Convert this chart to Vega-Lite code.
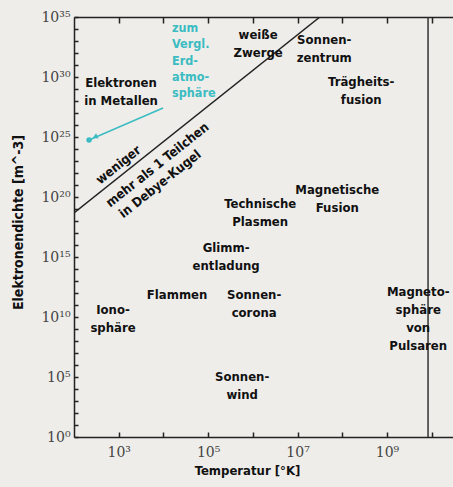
{
  "$schema": "https://vega.github.io/schema/vega-lite/v6.json",
  "width": 379,
  "height": 420,
  "autosize": {"type": "none"},
  "padding": {"left": 74, "top": 17, "right": 0, "bottom": 50},
  "background": "#eeedea",
  "config": {
    "view": {"stroke": null},
    "axis": {
      "domainColor": "#222",
      "domainWidth": 1.5,
      "tickColor": "#222",
      "tickWidth": 1.5,
      "grid": false,
      "labelFont": "DejaVu Serif",
      "labelFontSize": 14,
      "labelColor": "#444",
      "titleFont": "Liberation Sans Narrow, DejaVu Sans Condensed, sans-serif",
      "titleFontWeight": "bold",
      "titleFontSize": 13,
      "titleColor": "#111"
    },
    "text": {"font": "Liberation Sans Narrow, DejaVu Sans Condensed, sans-serif", "fontWeight": "bold", "fontSize": 13, "color": "#111", "lineBreak": "\n", "lineHeight": 18}
  },
  "datasets": {
    "debye": [{"T": 100, "n": 4.68e18}, {"T": 3.162e7, "n": 1e35}],
    "pulsar": [{"T": 8.3e9}],
    "arrow": [{"T": 9820, "n": 2.6e27}, {"T": 217, "n": 5.6e24}],
    "dot": [{"T": 217, "n": 5.6e24}],
    "head": [{"T": 295, "n": 1e25}],
    "labels": [
      {"T": 1127, "n": 3.16e29, "text": "Elektronen\nin Metallen"},
      {"T": 1.315e6, "n": 3.16e33, "text": "weiße\nZwerge"},
      {"T": 3.95e7, "n": 1.21e33, "text": "Sonnen-\nzentrum"},
      {"T": 2.66e8, "n": 3.83e29, "text": "Trägheits-\nfusion"},
      {"T": 7.73e7, "n": 3.83e20, "text": "Magnetische\nFusion"},
      {"T": 1.46e6, "n": 2.62e19, "text": "Technische\nPlasmen"},
      {"T": 2.53e5, "n": 5.6e15, "text": "Glimm-\nentladung"},
      {"T": 2.02e4, "n": 6.8e11, "text": "Flammen"},
      {"T": 1.07e6, "n": 6.8e11, "text": "Sonnen-\ncorona"},
      {"T": 746, "n": 3.83e10, "text": "Iono-\nsphäre"},
      {"T": 5.77e5, "n": 1e5, "text": "Sonnen-\nwind"},
      {"T": 5.0e9, "n": 1.21e12, "text": "Magneto-\nsphäre\nvon\nPulsaren"}
    ],
    "cyan": [{"T": 15600, "n": 1.21e34, "text": "zum\nVergl.\nErd-\natmo-\nsphäre"}],
    "rot": [
      {"T": 991, "n": 4.6e22, "text": "weniger"},
      {"T": 7400, "n": 4.64e22, "text": "mehr als 1 Teilchen"},
      {"T": 8410, "n": 1.2e21, "text": "in Debye-Kugel"}
    ]
  },
  "layer": [
    {
      "data": {"name": "debye"},
      "mark": {"type": "line", "color": "#222", "strokeWidth": 1.5, "clip": true},
      "encoding": {
        "x": {
          "field": "T", "type": "quantitative",
          "scale": {"type": "log", "domain": [100, 3e10], "nice": false},
          "axis": {
            "orient": "bottom",
            "values": [1000, 10000, 100000, 1000000, 10000000, 100000000, 1000000000, 10000000000],
            "tickSize": -5,
            "labelPadding": 13,
            "labelFlush": false,
            "labelExpr": "['','','','10³','','10⁵','','10⁷','','10⁹','',''][round(log(datum.value)/LN10)]",
            "title": "Temperatur [°K]",
            "titleX": 173,
            "titleY": 33,
            "titleBaseline": "middle",
            "titleAlign": "center"
          }
        },
        "y": {
          "field": "n", "type": "quantitative",
          "scale": {"type": "log", "domain": [1, 1e35], "nice": false},
          "axis": {
            "values": [1, 1e1, 1e2, 1e3, 1e4, 1e5, 1e6, 1e7, 1e8, 1e9, 1e10, 1e11, 1e12, 1e13, 1e14, 1e15, 1e16, 1e17, 1e18, 1e19, 1e20, 1e21, 1e22, 1e23, 1e24, 1e25, 1e26, 1e27, 1e28, 1e29, 1e30, 1e31, 1e32, 1e33, 1e34, 1e35],
            "tickSize": -4,
            "labelPadding": 8,
            "labelFlush": false,
            "labelExpr": "round(log(datum.value)/LN10) % 5 == 0 ? '10' + ['⁰','⁵','¹⁰','¹⁵','²⁰','²⁵','³⁰','³⁵'][round(log(datum.value)/LN10)/5] : ''",
            "title": "Elektronendichte [m^-3]",
            "titleFontSize": 14,
            "titleX": -56,
            "titleY": 205,
            "titleBaseline": "middle",
            "titleAlign": "center"
          }
        }
      }
    },
    {
      "data": {"name": "pulsar"},
      "mark": {"type": "rule", "color": "#333", "strokeWidth": 1.5},
      "encoding": {
        "x": {
          "field": "T", "type": "quantitative",
          "axis": {
            "orient": "top",
            "values": [1000, 10000, 100000, 1000000, 10000000, 100000000, 1000000000, 10000000000],
            "tickSize": -6,
            "labels": false,
            "title": null
          }
        }
      }
    },
    {
      "data": {"name": "arrow"},
      "mark": {"type": "line", "color": "#3bbcc2", "strokeWidth": 1.5},
      "encoding": {
        "x": {"field": "T", "type": "quantitative", "axis": null},
        "y": {"field": "n", "type": "quantitative"}
      }
    },
    {
      "data": {"name": "dot"},
      "mark": {"type": "point", "filled": true, "color": "#3bbcc2", "size": 30, "opacity": 1},
      "encoding": {
        "x": {"field": "T", "type": "quantitative", "axis": null},
        "y": {"field": "n", "type": "quantitative"}
      }
    },
    {
      "data": {"name": "head"},
      "mark": {"type": "point", "shape": "triangle-up", "filled": true, "color": "#3bbcc2", "size": 35, "angle": 245, "opacity": 1},
      "encoding": {
        "x": {"field": "T", "type": "quantitative", "axis": null},
        "y": {"field": "n", "type": "quantitative"}
      }
    },
    {
      "data": {"name": "labels"},
      "mark": {"type": "text", "align": "center", "baseline": "middle"},
      "encoding": {
        "x": {"field": "T", "type": "quantitative", "axis": null},
        "y": {"field": "n", "type": "quantitative"},
        "text": {"field": "text"}
      }
    },
    {
      "data": {"name": "cyan"},
      "mark": {"type": "text", "align": "left", "baseline": "middle", "color": "#3bbcc2", "fontSize": 12.5, "lineHeight": 16.25},
      "encoding": {
        "x": {"field": "T", "type": "quantitative", "axis": null},
        "y": {"field": "n", "type": "quantitative"},
        "text": {"field": "text"}
      }
    },
    {
      "data": {"name": "rot"},
      "mark": {"type": "text", "align": "center", "baseline": "middle", "angle": -38.5},
      "encoding": {
        "x": {"field": "T", "type": "quantitative", "axis": null},
        "y": {"field": "n", "type": "quantitative"},
        "text": {"field": "text"}
      }
    }
  ],
  "resolve": {"axis": {"x": "independent"}}
}
